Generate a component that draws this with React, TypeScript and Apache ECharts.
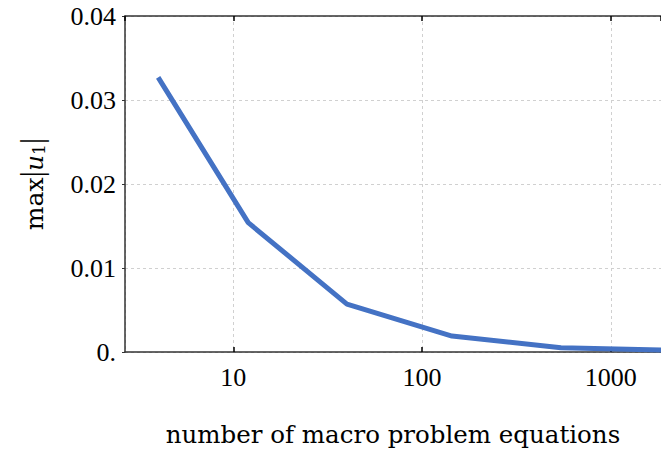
import React, { useEffect, useRef } from "react";
import * as echarts from "echarts";

const equations = [4, 12, 40, 144, 544, 2112];
const maxU1 = [0.0327, 0.0154, 0.0057, 0.0019, 0.0005, 0.0002];
const xTickLabels = ["10", "100", "1000"];
const yTickLabels = ["0.", "0.01", "0.02", "0.03", "0.04"];

const FONT = "Liberation Serif";
const NAME_FONT = "DejaVu Serif";

export default function App() {
  const ref = useRef<HTMLDivElement>(null);
  useEffect(() => {
    if (!ref.current) return;
    const chart = echarts.init(ref.current, undefined, { renderer: "svg" });
    const xMin = 2.67;
    const xMax = 1843;
    const xLab = (v: number) => {
      const s = String(Math.round(v));
      return xTickLabels.includes(s) && Math.abs(v - Math.round(v)) < 1e-6 ? s : "";
    };
    chart.setOption({
      animation: false,
      textStyle: { fontFamily: FONT },
      grid: { left: 125, right: 0, top: 16, bottom: 100 },
      xAxis: [
        {
          type: "log",
          logBase: 10,
          min: xMin,
          max: xMax,
          position: "bottom",
          name: "number of macro problem equations",
          nameLocation: "middle",
          nameGap: 70,
          nameTextStyle: { fontFamily: NAME_FONT, fontSize: 24.5, color: "#000" },
          axisLine: { show: true, lineStyle: { color: "#333", width: 1.5 } },
          axisTick: { show: true, inside: true, length: 5, lineStyle: { color: "#000", width: 1.5 } },
          axisLabel: { formatter: xLab, fontFamily: FONT, fontSize: 26, color: "#000", margin: 12, showMinLabel: false, showMaxLabel: false },
          splitLine: { show: true, lineStyle: { color: "#d0d0d0", type: [3, 3], width: 1 } },
          minorTick: { show: false },
        },
        {
          type: "log",
          logBase: 10,
          min: xMin,
          max: xMax,
          position: "top",
          axisLine: { show: true, lineStyle: { color: "#333", width: 1.5 } },
          axisTick: { show: true, inside: true, length: 5, lineStyle: { color: "#000", width: 1.5 } },
          axisLabel: { show: false },
          splitLine: { show: false },
        },
      ],
      yAxis: {
        type: "value",
        min: 0,
        max: 0.04,
        interval: 0.01,
        name: "{a|max}{b||}{i|u}{s|1}{b||}",
        nameLocation: "middle",
        nameRotate: 90,
        nameGap: 78,
        nameTextStyle: {
          fontFamily: NAME_FONT,
          fontSize: 25,
          color: "#000",
          rich: {
            a: { fontFamily: NAME_FONT, fontSize: 25, color: "#000", lineHeight: 36, verticalAlign: "bottom" },
            b: { fontFamily: FONT, fontSize: 32, color: "#000", lineHeight: 36, verticalAlign: "bottom" },
            i: { fontFamily: NAME_FONT, fontSize: 25, fontStyle: "italic", color: "#000", lineHeight: 36, verticalAlign: "bottom" },
            s: { fontFamily: NAME_FONT, fontSize: 17, color: "#000", lineHeight: 14, verticalAlign: "bottom" },
          },
        },
        axisLine: { show: true, lineStyle: { color: "#333", width: 1.5 } },
        axisTick: { show: true, inside: false, length: 3, lineStyle: { color: "#333", width: 1 } },
        axisLabel: {
          fontFamily: FONT,
          fontSize: 26,
          color: "#000",
          margin: 9,
          formatter: (v: number) => yTickLabels[Math.round(v / 0.01)] ?? "",
        },
        splitLine: { show: true, lineStyle: { color: "#d0d0d0", type: [3, 3], width: 1 } },
      },
      series: [
        {
          type: "line",
          data: equations.map((x, i) => [x, maxU1[i]]),
          showSymbol: false,
          symbol: "none",
          lineStyle: { color: "#4472c4", width: 5 },
          clip: true,
        },
      ],
    });
    return () => chart.dispose();
  }, []);
  return (
    <div
      ref={ref}
      style={{ position: "fixed", left: 0, top: 0, width: 661, height: 452, background: "#fff" }}
    />
  );
}
